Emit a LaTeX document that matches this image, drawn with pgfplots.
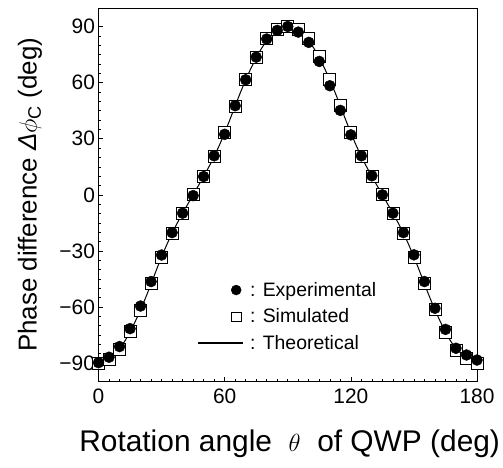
\documentclass[border=0pt]{standalone}
\usepackage{fontspec}
\setmainfont{Liberation Sans}
\usepackage{pgfplots}
\pgfplotsset{compat=1.18}

\pgfplotstableread{
x y
0 -89.8
5 -86.9
10 -81.2
15 -71.6
20 -59.5
25 -46.4
30 -32.2
35 -20.2
40 -9.8
45 -0.4
50 9.8
55 20.9
60 32.4
65 47.7
70 61.6
75 73.7
80 83.4
85 88.0
90 90.1
95 87.1
100 81.6
105 71.4
110 58.4
115 45.2
120 32.1
125 20.9
130 10.2
135 0.0
140 -9.8
145 -20.2
150 -32.1
155 -46.4
160 -60.7
165 -72.0
170 -82.1
175 -85.7
180 -88.4
}\experimental

\pgfplotstableread{
x y
0 -90.0
5 -88.0
10 -82.5
15 -73.3
20 -61.6
25 -47.5
30 -33.4
35 -20.7
40 -10.0
45 0.0
50 10.0
55 20.7
60 33.4
65 47.5
70 61.6
75 73.5
80 83.5
85 88.6
90 90.0
95 88.6
100 83.5
105 74.0
110 62.0
115 47.8
120 33.4
125 20.7
130 10.0
135 0.0
140 -10.0
145 -20.7
150 -33.4
155 -47.4
160 -61.3
165 -73.8
170 -83.0
175 -87.6
180 -90.0
}\simulated

\pgfplotstableread{
x y
0 -90.0
2.5 -89.5
5 -88.0
7.5 -85.6
10 -82.4
12.5 -78.3
15 -73.3
17.5 -67.7
20 -61.5
22.5 -54.8
25 -47.6
27.5 -40.3
30 -33.2
32.5 -26.6
35 -20.5
37.5 -15.0
40 -9.9
42.5 -4.9
45 0.0
47.5 4.9
50 9.9
52.5 15.0
55 20.5
57.5 26.6
60 33.2
62.5 40.3
65 47.6
67.5 54.8
70 61.5
72.5 67.7
75 73.3
77.5 78.3
80 82.4
82.5 85.6
85 88.0
87.5 89.5
90 90.0
92.5 89.5
95 88.0
97.5 85.6
100 82.4
102.5 78.3
105 73.3
107.5 67.7
110 61.5
112.5 54.8
115 47.6
117.5 40.3
120 33.2
122.5 26.6
125 20.5
127.5 15.0
130 9.9
132.5 4.9
135 0.0
137.5 -4.9
140 -9.9
142.5 -15.0
145 -20.5
147.5 -26.6
150 -33.2
152.5 -40.3
155 -47.6
157.5 -54.8
160 -61.5
162.5 -67.7
165 -73.3
167.5 -78.3
170 -82.4
172.5 -85.6
175 -88.0
177.5 -89.5
180 -90.0
}\theoretical

\begin{document}
\begin{tikzpicture}
\begin{axis}[
  scale only axis,
  width=378.5bp, height=373.7bp,
  xmin=0, xmax=180, ymin=-100, ymax=100,
  xtick={0,60,120,180}, minor x tick num=11,
  ytick={-90,-60,-30,0,30,60,90}, minor y tick num=5,
  xticklabels={0,60,120,180},
  yticklabels={−90,−60,−30,0,30,60,90},
  tick align=inside, xtick pos=bottom, ytick pos=left,
  major tick length=5bp, minor tick length=3bp,
  tick style={black, line width=0.6bp},
  axis line style={black, line width=0.8bp},
  ticklabel style={font=\fontsize{21}{25}\selectfont},
  xticklabel style={yshift=-4bp},
  xlabel={Rotation angle\ \ $\theta$\ \ of QWP (deg)},
  ylabel={Phase difference \textit{Δ}$\phi$\textsubscript{C} (deg)},
  xlabel style={font=\fontsize{30}{35}\selectfont, at={(axis description cs:0.505,-0.166)}, anchor=center},
  ylabel style={font=\fontsize{26}{31}\selectfont, at={(axis description cs:-0.181,0.5)}, anchor=center, rotate=0},
  clip=false,
  reverse legend,
  legend cell align=left,
  legend style={at={(0.2576,0.272)}, anchor=north west, draw=none, fill=none,
    inner sep=0pt, row sep=7bp, column sep=0pt,
    font=\fontsize{19.5}{23}\selectfont,
    nodes={inner sep=2bp}},
]
\addplot[black, line width=1bp, smooth, tension=0.5,
  legend image code/.code={\path[draw=none,fill=none] (-40bp,-5bp) rectangle (12bp,5bp);\draw[line width=1.6bp] (-38bp,0) -- (7bp,0);}]
  table[x=x,y=y] {\theoretical};
\addlegendentry{: Theoretical}
\addplot[only marks, mark=square*, mark size=6bp,
  mark options={fill=white, draw=black, line width=0.7bp},
  legend image code/.code={\path[draw=none,fill=none] (-40bp,-5bp) rectangle (12bp,5bp);\draw[line width=0.8bp,fill=white] (-4.7bp,-4.7bp) rectangle (4.7bp,4.7bp);}]
  table[x=x,y=y] {\simulated};
\addlegendentry{: Simulated}
\addplot[only marks, mark=*, mark size=5.5bp,
  mark options={fill=black, draw=black},
  legend image code/.code={\path[draw=none,fill=none] (-40bp,-5bp) rectangle (12bp,5bp);\fill[black] (0,0) circle (5bp);}]
  table[x=x,y=y] {\experimental};
\addlegendentry{: Experimental}
\end{axis}
\pgfresetboundingbox
\path (current axis.south west) ++(-98.5bp,-86.3bp) rectangle ([xshift=26bp,yshift=8bp]current axis.north east);
\end{tikzpicture}
\end{document}
